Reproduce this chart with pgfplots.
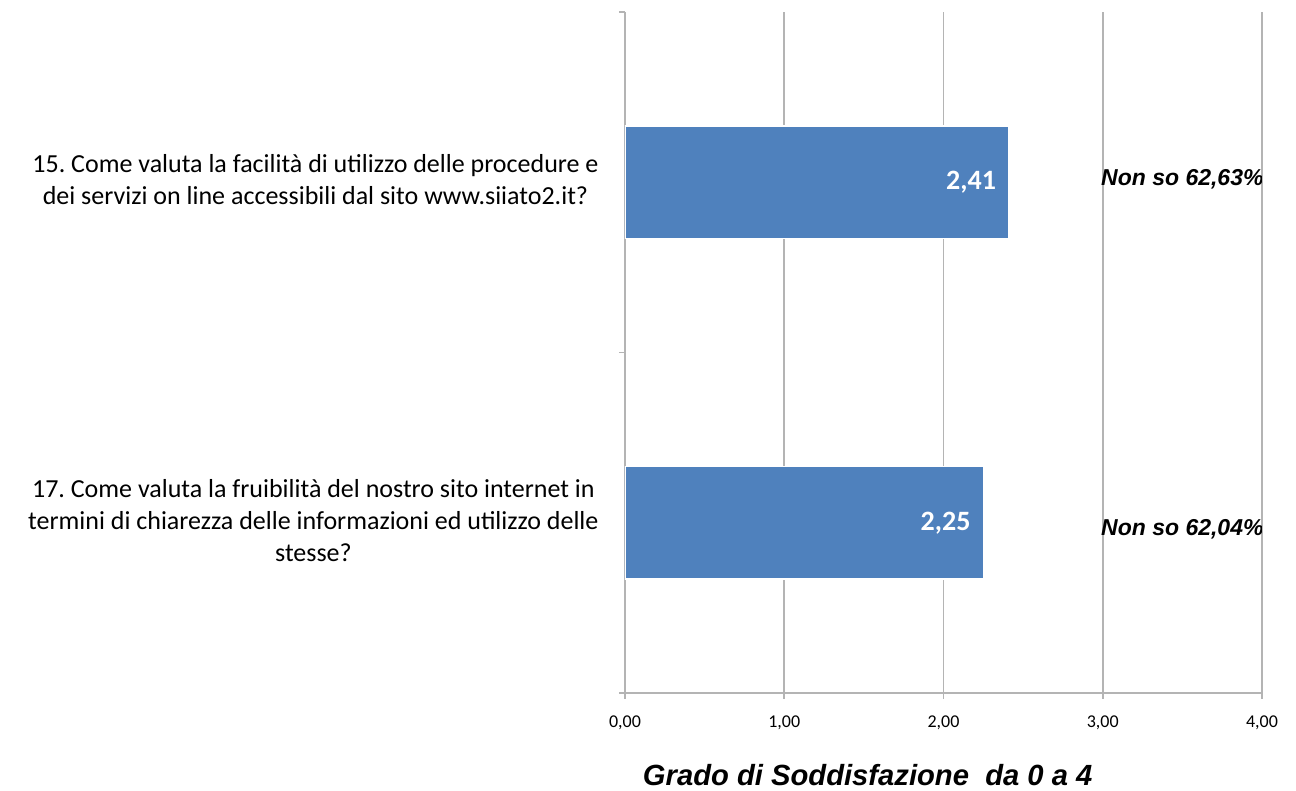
\documentclass[border=0pt]{standalone}
\usepackage{fontspec}
\setmainfont{Carlito}
\newfontfamily\arialfont{Liberation Sans}
\usepackage{pgfplots}
\pgfplotsset{compat=1.18}
\definecolor{barblue}{HTML}{4F81BD}
\definecolor{gridgray}{HTML}{B4B4B4}
\frenchspacing
\begin{document}
\begin{tikzpicture}
\begin{axis}[
  scale only axis, width=318.5pt, height=340.5pt,
  xmin=0, xmax=4, ymin=-0.5, ymax=1.5,
  axis lines*=left,
  axis line style={draw=gridgray, line width=0.8pt},
  xtick={0,1,2,3,4},
  xmajorgrids,
  grid style={gridgray, line width=0.8pt},
  tick style={draw=gridgray, line width=0.8pt},
  tick align=outside,
  major tick length=3pt,
  /pgf/number format/use comma,
  /pgf/number format/fixed,
  /pgf/number format/fixed zerofill,
  /pgf/number format/precision=2,
  /pgf/number format/assume math mode=true,
  xticklabel style={font=\fontsize{9}{10}\selectfont, yshift=-5pt},
  xlabel={Grado di Soddisfazione\ \ da 0 a 4},
  xlabel style={at={(axis description cs:0.381,-0.12)}, anchor=center,
    font=\arialfont\bfseries\itshape\fontsize{14.6}{15}\selectfont},
  ytick={-0.5,0.5,1.5},
  yticklabels={,,},
  extra y ticks={0,1},
  extra y tick labels={{\begin{tabular}{@{}c@{}}17. Come valuta la fruibilità del nostro sito internet in\\termini di chiarezza delle informazioni ed utilizzo delle\\stesse?\end{tabular}},{\begin{tabular}{@{}c@{}}15. Come valuta la facilità di utilizzo delle procedure e\\dei servizi on line accessibili dal sito www.siiato2.it?\end{tabular}}},
  extra y tick style={major tick length=0pt,
    tick label style={anchor=east, inner sep=0pt, xshift=-13pt,
      font=\fontsize{13}{16}\selectfont}},
]
\addplot[xbar, bar width=0.33, fill=barblue, draw=white, line width=0.8pt,
  point meta=x,
  nodes near coords,
  every node near coord/.append style={anchor=east, inner sep=0pt, xshift=-6pt,
    text=white, font=\bfseries\fontsize{14}{14}\selectfont}]
  coordinates {(2.25,0) (2.41,1)};
\node[font=\arialfont\bfseries\itshape\fontsize{11.5}{12}\selectfont] at (axis cs:3.5,1.01) {Non so 62,63\%};
\node[font=\arialfont\bfseries\itshape\fontsize{11.5}{12}\selectfont] at (axis cs:3.5,-0.02) {Non so 62,04\%};
\end{axis}
\pgfresetboundingbox
\path[use as bounding box] ([shift={(-312.5pt,-49pt)}]current axis.south west) rectangle ([shift={(17pt,6pt)}]current axis.north east);
\end{tikzpicture}
\end{document}
